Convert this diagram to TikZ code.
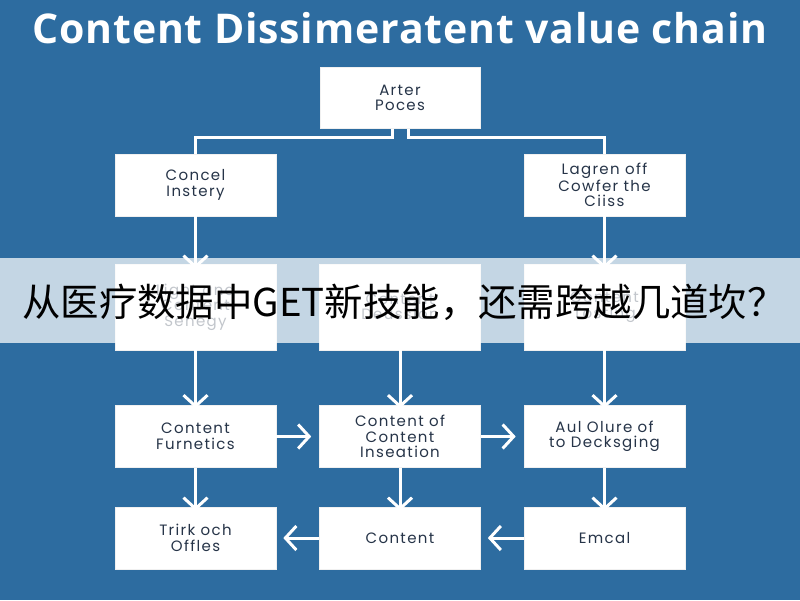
\documentclass[tikz,border=0pt]{standalone}
\usepackage{fontspec}
\setmainfont{Open Sans}
\newfontfamily\boxfont{Poppins}[LetterSpace=9]
\newfontfamily\cjk{Noto Sans CJK SC}
\usetikzlibrary{arrows.meta}
\definecolor{bgblue}{RGB}{45,108,160}
\definecolor{boxtext}{RGB}{38,52,72}
\begin{document}
\begin{tikzpicture}[x=1pt,y=-1pt,
  box/.style={fill=white, draw=white!88!gray, line width=0.6pt, minimum width=161pt, minimum height=62pt, align=center, text=boxtext, font=\boxfont\fontsize{15}{15.5}\selectfont, inner sep=0pt},
  tallbox/.style={box, minimum height=86pt},
  conn/.style={draw=white, line width=3pt},
  arr/.style={conn, -{Straight Barb[length=11pt,width=24pt]}},
]
\useasboundingbox[fill=bgblue] (0,0) rectangle (800,600);
\node[text=white, font=\fontsize{41}{44}\selectfont\bfseries\addfontfeature{LetterSpace=2}] (title) at (400,28) {Content Dissimeratent value chain};

% row 0
\node[box, minimum width=160pt, minimum height=61pt] (top) at (400,98) {Arter\\Poces};
% row 1
\node[box] (r1l) at (195.5,185) {Concel\\Instery};
\node[box] (r1r) at (604.5,185) {Lagren off\\Cowfer the\\Ciiss};
% row 2
\node[tallbox] (r2l) at (195.5,307) {Light and\\Content\\Senegy};
\node[tallbox] (r2m) at (400,307) {Content\\Deussion};
\node[tallbox] (r2r) at (604.5,307) {Content\\Tosting};
% row 3
\node[box] (r3l) at (195.5,436.5) {Content\\Furnetics};
\node[box] (r3m) at (400,436.5) {Content of\\Content\\Inseation};
\node[box] (r3r) at (604.5,436.5) {Aul Olure of\\to Decksging};
% row 4
\node[box] (r4l) at (195.5,538) {Trirk och\\Offles};
\node[box] (r4m) at (400,538) {Content};
\node[box] (r4r) at (604.5,538) {Emcal};

% top connectors
\draw[conn] ([xshift=-8pt]top.south) -- ++(0,8.5) -| (r1l.north);
\draw[conn] ([xshift=8pt]top.south) -- ++(0,8.5) -| (r1r.north);
% row1 -> row2
\draw[arr] (r1l.south) -- ([yshift=-5pt]r2l.north);
\draw[arr] (r1r.south) -- ([yshift=-5pt]r2r.north);
% row2 -> row3
\draw[arr] (r2l.south) -- ([yshift=-3pt]r3l.north);
\draw[arr] (r2m.south) -- ([yshift=-3pt]r3m.north);
\draw[arr] (r2r.south) -- ([yshift=-3pt]r3r.north);
% row3 horizontal
\draw[arr] (r3l.east) -- ([xshift=-8pt]r3m.west);
\draw[arr] (r3m.east) -- ([xshift=-8pt]r3r.west);
% row3 -> row4
\draw[arr] (r3l.south) -- ([yshift=-4pt]r4l.north);
\draw[arr] (r3m.south) -- ([yshift=-4pt]r4m.north);
\draw[arr] (r3r.south) -- ([yshift=-4pt]r4r.north);
% row4 horizontal (leftwards)
\draw[arr] (r4m.west) -- ([xshift=7pt]r4l.east);
\draw[arr] (r4r.west) -- ([xshift=7pt]r4m.east);

% banner
\fill[white, opacity=0.72] (0,258) rectangle (800,343);
\node[text=black, font=\cjk\fontsize{38.4}{42}\selectfont, inner sep=0pt] (banner) at (404,302) {从医疗数据中GET新技能，还需跨越几道坎？};
\end{tikzpicture}
\end{document}
